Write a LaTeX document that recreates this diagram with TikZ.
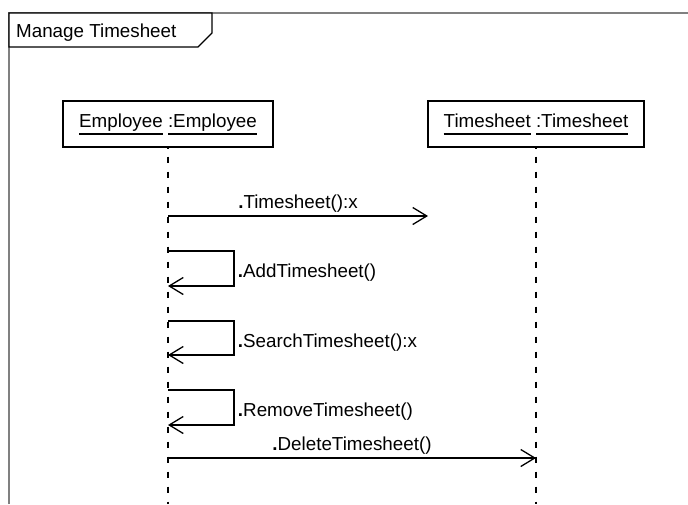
\documentclass[tikz,border=0pt]{standalone}
\usepackage{fontspec}
\setmainfont{Liberation Sans}
\usetikzlibrary{positioning,arrows.meta}
\newcommand\ulword[1]{\setbox0\hbox{#1}\rlap{\rule[-7.5pt]{\wd0}{1.3pt}}\box0\relax}

\begin{document}
\begin{tikzpicture}[x=1pt, y=-1pt, line width=1.3pt, font=\fontsize{18.8}{22}\selectfont,
  obj/.style={draw, minimum height=46pt, inner sep=0pt},
  life/.style={line width=1.2pt, dash pattern=on 6.5pt off 8.5pt, dash phase=6pt},
  msg/.style={-{Straight Barb[length=14pt, width=17pt]}, line width=1.3pt}]
  \useasboundingbox (0,0) rectangle (688,504);

  % frame
  \draw[gray, line width=1.5pt] (9,504) |- (688,13);
  \draw[fill=white] (9,13) -- (212,13) -- (212,33) -- (198,47) -- (9,47) -- cycle;
  \node[anchor=base west, inner sep=0pt](title) at (15.5,37.5){Manage Timesheet};

  % lifelines
  \node[obj, minimum width=210pt](emp) at (168,124){\ulword{Employee} \ulword{:Employee}};
  \node[obj, minimum width=216pt](ts) at (536,124){\ulword{Timesheet} \ulword{:Timesheet}};
  \coordinate (empEnd) at (emp.south |- 0,504);
  \coordinate (tsEnd) at (ts.south |- 0,504);
  \draw[life] (emp.south) -- (empEnd);
  \draw[life] (ts.south) -- (tsEnd);

  % messages
  \coordinate (m1) at (emp.south |- 0,216);
  \coordinate (m1end) at (428,216);
  \draw[msg] (m1) -- node[above]{{\bfseries .}Timesheet():x} (m1end);

  \coordinate (s1) at (emp.south |- 0,251);
  \coordinate (s2) at (emp.south |- 0,321);
  \coordinate (s3) at (emp.south |- 0,390);
  \draw[msg] (s1) -- ++(66,0) |- node[pos=.25, anchor=base west, yshift=-9pt]{{\bfseries .}AddTimesheet()} ++(-66,35);
  \draw[msg] (s2) -- ++(66,0) |- node[pos=.25, anchor=base west, yshift=-9pt]{{\bfseries .}SearchTimesheet():x} ++(-66,34);
  \draw[msg] (s3) -- ++(66,0) |- node[pos=.25, anchor=base west, yshift=-9pt]{{\bfseries .}RemoveTimesheet()} ++(-66,35);

  \coordinate (m5) at (emp.south |- 0,458);
  \coordinate (m5end) at (ts.south |- 0,458);
  \draw[msg] (m5) -- node[above]{{\bfseries .}DeleteTimesheet()} (m5end);
\end{tikzpicture}
\end{document}
